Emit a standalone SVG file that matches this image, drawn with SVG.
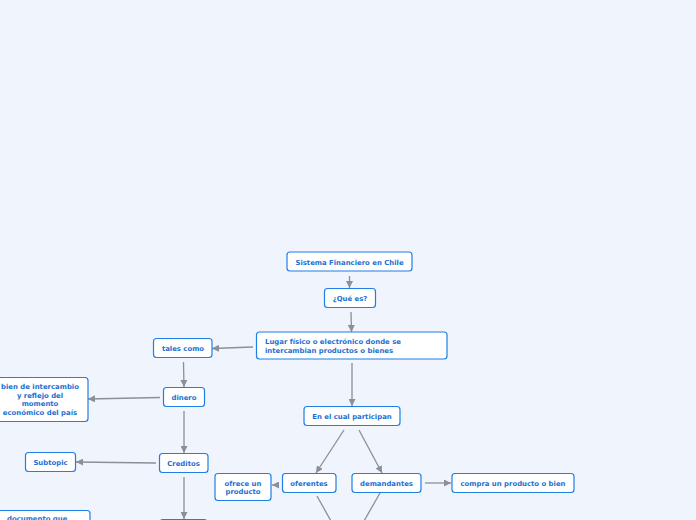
<svg xmlns="http://www.w3.org/2000/svg" width="696" height="520" viewBox="0 0 696 520">
<defs>
<marker id="ah" viewBox="0 0 10 10" refX="10" refY="5" markerWidth="7" markerHeight="7" markerUnits="userSpaceOnUse" orient="auto">
<path d="M0,0 L10,5 L0,10 z" fill="#8a8f98"/>
</marker>
<style>
.n rect{fill:#ffffff;stroke:#1f7fe6;stroke-width:1.2}
.n text{font-family:"DejaVu Sans",Verdana,sans-serif;font-weight:bold;font-size:6.9px;fill:#1b6fd1}
.c{text-anchor:middle}
#conn line{stroke:#8a8f98;stroke-width:1.3;fill:none}
#conn line.a{marker-end:url(#ah)}
</style>
</defs>
<rect width="696" height="520" fill="#f0f4fd"/>
<g id="conn">
<line class="a" x1="349.5" y1="276" x2="349.5" y2="288"/>
<line class="a" x1="351" y1="312" x2="351.5" y2="332"/>
<line class="a" x1="253" y1="347" x2="212" y2="348.5"/>
<line class="a" x1="183.5" y1="362" x2="184" y2="387"/>
<line class="a" x1="160" y1="397.5" x2="88" y2="399"/>
<line class="a" x1="184" y1="411" x2="184" y2="453"/>
<line class="a" x1="156" y1="463" x2="76" y2="462"/>
<line class="a" x1="184" y1="477" x2="184" y2="519"/>
<line class="a" x1="352" y1="363" x2="352" y2="406"/>
<line class="a" x1="344" y1="430" x2="316" y2="473"/>
<line class="a" x1="359" y1="430" x2="382" y2="473"/>
<line class="a" x1="279" y1="485" x2="272" y2="485"/>
<line class="a" x1="425" y1="483" x2="451" y2="483"/>
<line x1="317" y1="496" x2="331" y2="521"/>
<line x1="380" y1="493" x2="364" y2="521"/>
</g>
<g id="n1" class="n"><rect x="287" y="252" width="125" height="19" rx="3"/><text class="c" x="349.5" y="264.5">Sistema Financiero en Chile</text></g>
<g id="n2" class="n"><rect x="324.5" y="288.5" width="51" height="19" rx="3"/><text class="c" x="350" y="301">¿Qué es?</text></g>
<g id="n3" class="n"><rect x="256.5" y="332" width="190.5" height="27" rx="3"/><text x="265" y="343.5">Lugar físico o electrónico donde se</text><text x="265" y="352.5">intercambian productos o bienes</text></g>
<g id="n4" class="n"><rect x="153.5" y="338.5" width="58.5" height="19" rx="3"/><text class="c" x="183" y="351">tales como</text></g>
<g id="n5" class="n"><rect x="163.5" y="387.5" width="41" height="19" rx="3"/><text class="c" x="184" y="400">dinero</text></g>
<g id="n6" class="n"><rect x="-10" y="377.5" width="98" height="44" rx="3"/><text class="c" x="40" y="389">bien de intercambio</text><text class="c" x="40" y="397.5">y reflejo del</text><text class="c" x="40" y="406">momento</text><text class="c" x="40" y="414.5">económico del país</text></g>
<g id="n7" class="n"><rect x="159.5" y="453.5" width="48.5" height="19" rx="3"/><text class="c" x="183.5" y="466">Creditos</text></g>
<g id="n8" class="n"><rect x="25.5" y="452.5" width="50" height="19" rx="3"/><text class="c" x="50.5" y="465">Subtopic</text></g>
<g id="n9" class="n"><rect x="304" y="406.5" width="96" height="19" rx="3"/><text class="c" x="352" y="419">En el cual participan</text></g>
<g id="n10" class="n"><rect x="282.5" y="473.5" width="53.5" height="19" rx="3"/><text class="c" x="309" y="486">oferentes</text></g>
<g id="n11" class="n"><rect x="352" y="473.5" width="69" height="19" rx="3"/><text class="c" x="386.5" y="486">demandantes</text></g>
<g id="n12" class="n"><rect x="215" y="473.5" width="56" height="27" rx="3"/><text class="c" x="243" y="485.5">ofrece un</text><text class="c" x="243" y="494">producto</text></g>
<g id="n13" class="n"><rect x="452" y="473.5" width="122" height="19" rx="3"/><text class="c" x="513" y="486">compra un producto o bien</text></g>
<g id="n14" class="n"><rect x="-10" y="510.5" width="100" height="30" rx="3"/><text x="7" y="521">documento que</text></g>
<g id="n15" class="n"><rect x="160" y="519.5" width="47" height="20" rx="3"/></g>
</svg>
